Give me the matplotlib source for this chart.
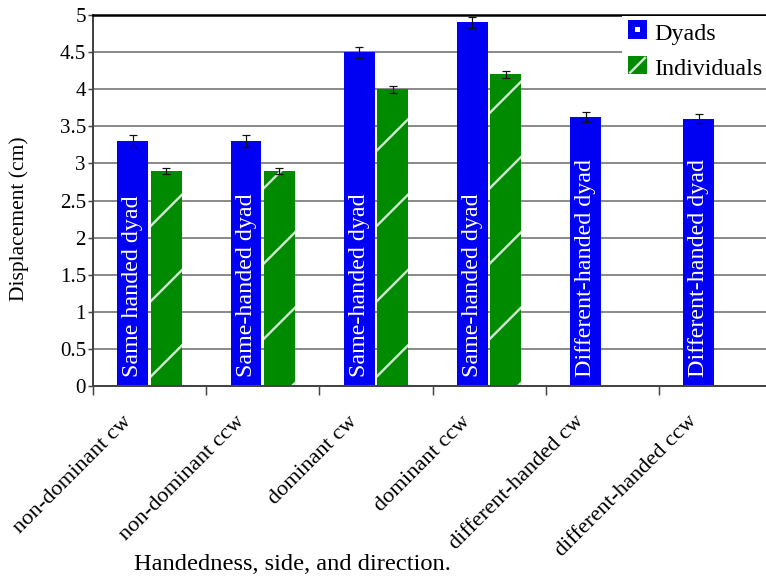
import numpy as np
import matplotlib
matplotlib.use("Agg")
import matplotlib.pyplot as plt
from matplotlib.patches import Rectangle
from matplotlib.lines import Line2D
from matplotlib.legend_handler import HandlerBase
from matplotlib.transforms import ScaledTranslation

# ---- data ----
conditions = ["non-dominant cw", "non-dominant ccw", "dominant cw",
              "dominant ccw", "different-handed cw", "different-handed ccw"]
dyads = [3.3, 3.3, 4.5, 4.9, 3.62, 3.6]
dyads_err = [0.08, 0.08, 0.074, 0.075, 0.067, 0.06]
individuals = [2.9, 2.9, 4.0, 4.2, np.nan, np.nan]
individuals_err = [0.04, 0.04, 0.047, 0.047, np.nan, np.nan]
bar_notes = ["Same handed dyad", "Same-handed dyad", "Same-handed dyad",
             "Same-handed dyad", "Different-handed dyad", "Different-handed dyad"]
y_ticks = [0, 0.5, 1, 1.5, 2, 2.5, 3, 3.5, 4, 4.5, 5]
y_tick_labels = ["0", "0.5", "1", "1.5", "2", "2.5", "3", "3.5", "4", "4.5", "5"]

DPI = 226
PX = 72.0 / DPI  # one pixel in points

plt.rcParams["font.family"] = ["Liberation Serif", "DejaVu Serif"]
plt.rcParams["hatch.linewidth"] = 2.4 * PX

BLUE = "#0000f2"
GREEN = "#008a00"
STRIPE = "#cfe6cf"
GRID = "#8c8c8c"

fig = plt.figure(figsize=(766 / DPI, 576 / DPI), dpi=DPI)
ax = fig.add_axes([93 / 766, 1 - 386 / 576, 679 / 766, 371 / 576])

n = len(conditions)
centers = np.arange(n) + 0.5
bw = 0.273
off = 0.148

ax.bar(centers - off, dyads, width=bw, color=BLUE, linewidth=0, zorder=2,
       label="Dyads")
ax.bar(centers + off, individuals, width=bw, color=GREEN, edgecolor=STRIPE,
       linewidth=0, hatch="/", zorder=2, label="Individuals")

err_kw = dict(fmt="none", ecolor="#111111", elinewidth=1.2 * PX,
              capsize=4 * PX, capthick=1.2 * PX, zorder=3)
ax.errorbar(centers - off, dyads, yerr=dyads_err, **err_kw)
ax.errorbar(centers + off, individuals, yerr=individuals_err, **err_kw)

for x, note in zip(centers - off, bar_notes):
    ax.text(x, 0.125, note, rotation=90, ha="center", va="bottom",
            color="white", fontsize=24 * PX, zorder=4)

ax.set_xlim(0, n)
ax.set_ylim(0, 5)

ax.set_yticks(y_ticks, y_tick_labels)
ax.tick_params(axis="y", direction="out", length=5 * PX, width=1.5 * PX,
               color="#444444", labelsize=21 * PX, pad=2 * PX)
ax.yaxis.grid(True, color=GRID, linewidth=2 * PX, zorder=0)
ax.set_axisbelow(True)

ax.set_xticks(centers, conditions, rotation=45, ha="right",
              rotation_mode="anchor", fontsize=22.5 * PX)
ax.tick_params(axis="x", which="major", length=0, pad=6 * PX)
ax.set_xticks(np.arange(n + 1), minor=True)
ax.tick_params(axis="x", which="minor", direction="out", length=9 * PX,
               width=1.5 * PX, color="#444444")
shift = ScaledTranslation(-28 / DPI, -20 / DPI, fig.dpi_scale_trans)
for lab in ax.get_xticklabels():
    lab.set_transform(lab.get_transform() + shift)

for side in ("left", "bottom"):
    ax.spines[side].set_color("#444444")
    ax.spines[side].set_linewidth(2 * PX)
ax.spines["top"].set_color("black")
ax.spines["top"].set_linewidth(2.5 * PX)
ax.spines["right"].set_visible(False)

ax.set_ylabel("Displacement (cm)", fontsize=21.5 * PX)
ax.yaxis.set_label_coords(-64 / 679, (386 - 219) / 371)
fig.text(292 / 766, 1 - 564 / 576, "Handedness, side, and direction.",
         ha="center", va="center", fontsize=24.5 * PX)


class DyadHandle(HandlerBase):
    def create_artists(self, legend, orig, xd, yd, w, h, fs, trans):
        s = min(w, h)
        x0 = xd + (w - s) / 2
        y0 = yd + (h - s) / 2
        sq = Rectangle((x0, y0), s, s, facecolor=BLUE, edgecolor="none",
                       transform=trans)
        d = s * 0.28
        dot = Rectangle((x0 + (s - d) / 2, y0 + (s - d) / 2), d, d,
                        facecolor="white", edgecolor="none", transform=trans)
        return [sq, dot]


class IndivHandle(HandlerBase):
    def create_artists(self, legend, orig, xd, yd, w, h, fs, trans):
        s = min(w, h)
        x0 = xd + (w - s) / 2
        y0 = yd + (h - s) / 2
        sq = Rectangle((x0, y0), s, s, facecolor=GREEN, edgecolor="none",
                       transform=trans)
        ln = Line2D([x0 + s * 0.1, x0 + s * 0.9], [y0 + s * 0.1, y0 + s * 0.9],
                    color=STRIPE, linewidth=2.4 * PX, transform=trans)
        return [sq, ln]


h_d = Rectangle((0, 0), 1, 1)
h_i = Rectangle((0, 0), 1, 1)
leg = ax.legend([h_d, h_i], ["Dyads", "Individuals"],
                handler_map={h_d: DyadHandle(), h_i: IndivHandle()},
                loc="upper left", bbox_to_anchor=(622 / 766, 1 - 16 / 576),
                bbox_transform=fig.transFigure, fontsize=24 * PX,
                frameon=True, fancybox=False, framealpha=1, edgecolor="none",
                handlelength=0.8, handleheight=0.8, handletextpad=0.3,
                borderpad=0.25, labelspacing=0.55, borderaxespad=0)
leg.set_zorder(5)

fig.savefig("out.png", dpi=DPI)
